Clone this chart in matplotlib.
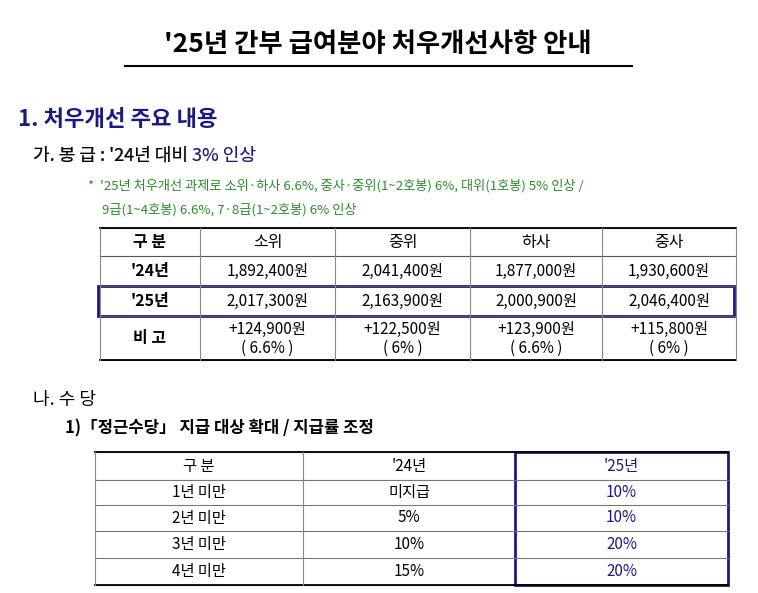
import matplotlib
matplotlib.use("Agg")
import matplotlib.pyplot as plt
from matplotlib.patches import Rectangle
from matplotlib import font_manager as fm

cands = [f.name for f in fm.fontManager.ttflist if "CJK" in f.name]
pref = [n for n in cands if "KR" in n] + [n for n in cands if "JP" in n] + cands
FONT = pref[0] if pref else "Noto Sans CJK KR"
NAVY = "#1a1a80"
GREEN = "#2e8b2e"

title = "'25년 간부 급여분야 처우개선사항 안내"
t1_header = ["구 분", "소위", "중위", "하사", "중사"]
t1_rows = ["'24년", "'25년", "비 고"]
pay_24 = ["1,892,400원", "2,041,400원", "1,877,000원", "1,930,600원"]
pay_25 = ["2,017,300원", "2,163,900원", "2,000,900원", "2,046,400원"]
diff = ["+124,900원", "+122,500원", "+123,900원", "+115,800원"]
diff_pct = ["( 6.6% )", "( 6% )", "( 6.6% )", "( 6% )"]

t2_header = ["구 분", "'24년", "'25년"]
t2_rows = ["1년 미만", "2년 미만", "3년 미만", "4년 미만"]
rate_24 = ["미지급", "5%", "10%", "15%"]
rate_25 = ["10%", "10%", "20%", "20%"]

fig = plt.figure(figsize=(7.58, 5.93), dpi=100)
ax = fig.add_axes([0, 0, 1, 1])
ax.set_xlim(0, 758); ax.set_ylim(593, 0); ax.axis("off")

def T(x, y, s, size=11, color="black", ha="left", weight="normal"):
    return ax.text(x, y, s, fontsize=size, color=color, ha=ha, va="center",
                   family=FONT, weight=weight)

T(378, 45, title, size=19, ha="center", weight="bold")
ax.plot([125, 632], [66, 66], color="black", lw=1.5)
T(18, 120, "1. 처우개선 주요 내용", size=16, color=NAVY, weight="bold")
T(33, 156, "가. 봉 급 : '24년 대비 3% 인상", size=13)
# colour the second part by overlay
t_a = T(33, 156, "가. 봉 급 : '24년 대비 ", size=13)
fig.canvas.draw()
bb = t_a.get_window_extent().transformed(ax.transData.inverted())
T(33, 156, "가. 봉 급 : '24년 대비 3% 인상", size=13, color="white")
T(33, 156, "가. 봉 급 : '24년 대비 ", size=13)
T(max(bb.x0, bb.x1), 156, "3% 인상", size=13, color=NAVY)
T(88, 186, "*  '25년 처우개선 과제로 소위·하사 6.6%, 중사·중위(1~2호봉) 6%, 대위(1호봉) 5% 인상 /", size=9.5, color=GREEN)
T(102, 210, "9급(1~4호봉) 6.6%, 7·8급(1~2호봉) 6% 인상", size=9.5, color=GREEN)

# table 1
xs = [100, 200, 335, 470, 602, 736]
ys = [228, 256, 286, 316, 360]
for y in ys:
    ax.plot([xs[0], xs[-1]], [y, y], color="#555", lw=0.8)
ax.plot([xs[0], xs[-1]], [ys[0], ys[0]], color="black", lw=1.3)
ax.plot([xs[0], xs[-1]], [ys[-1], ys[-1]], color="black", lw=1.3)
for x in xs:
    ax.plot([x, x], [ys[0], ys[-1]], color="#888", lw=0.8)
for i, h in enumerate(t1_header):
    T((xs[i]+xs[i+1])/2, (ys[0]+ys[1])/2, h, size=11.5, ha="center", weight="bold" if i == 0 else "normal")
for r, lab in enumerate(t1_rows):
    cy = (ys[r+1]+ys[r+2])/2
    T((xs[0]+xs[1])/2, cy, lab, size=11.5, ha="center", weight="bold")
for c in range(4):
    cx = (xs[c+1]+xs[c+2])/2
    T(cx, (ys[1]+ys[2])/2, pay_24[c], ha="center")
    T(cx, (ys[2]+ys[3])/2, pay_25[c], ha="center")
    T(cx, 329, diff[c], ha="center")
    T(cx, 348, diff_pct[c], ha="center")
ax.add_patch(Rectangle((98, 286), 636, 30, fill=False, ec=NAVY, lw=2))

T(33, 400, "나. 수 당", size=13)
T(65, 428, "1)「정근수당」 지급 대상 확대 / 지급률 조정", size=12, weight="bold")

# table 2
xs2 = [95, 303, 515, 728]
ys2 = [452, 480, 505, 531, 558, 585]
for y in ys2:
    ax.plot([xs2[0], xs2[-1]], [y, y], color="#777", lw=0.8)
ax.plot([xs2[0], xs2[-1]], [ys2[0], ys2[0]], color="black", lw=1.3)
ax.plot([xs2[0], xs2[-1]], [ys2[-1], ys2[-1]], color="black", lw=1.3)
ax.plot([xs2[1], xs2[1]], [ys2[0], ys2[-1]], color="#888", lw=0.8)
ax.plot([xs2[0], xs2[0]], [ys2[0], ys2[-1]], color="#888", lw=0.8)
for i, h in enumerate(t2_header):
    T((xs2[i]+xs2[i+1])/2, (ys2[0]+ys2[1])/2, h, size=11,
      ha="center", color=NAVY if i == 2 else "black")
for r in range(4):
    cy = (ys2[r+1]+ys2[r+2])/2
    T((xs2[0]+xs2[1])/2, cy, t2_rows[r], size=11, ha="center")
    T((xs2[1]+xs2[2])/2, cy, rate_24[r], size=11, ha="center")
    T((xs2[2]+xs2[3])/2, cy, rate_25[r], size=11, ha="center", color=NAVY)
ax.add_patch(Rectangle((515, 452), 213, 133, fill=False, ec=NAVY, lw=2))

fig.savefig("out.png", dpi=100, facecolor="white")
